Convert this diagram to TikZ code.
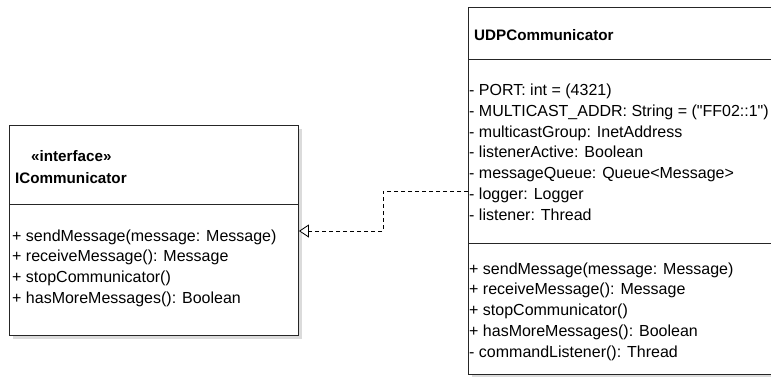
\documentclass[tikz,border=0pt]{standalone}
\usepackage{fontspec}
\setmainfont{Liberation Sans}[Ligatures=TeXOff]
\usetikzlibrary{arrows.meta,positioning}
\tikzset{
  classbox/.style  = {draw=black!85, line width=0.9pt, fill=white,
                      inner sep=0pt, anchor=north west},
  boxshadow/.style = {fill=gray!28, draw=none},
  divider/.style   = {draw=black!85, line width=0.9pt},
  member/.style    = {anchor=base west, inner sep=0pt,
                      font=\fontsize{16}{18}\selectfont},
  classname/.style = {anchor=base west, inner sep=0pt,
                      font=\fontsize{15.2}{18}\selectfont\bfseries},
  realize/.style   = {line width=0.8pt, dash pattern=on 4pt off 3pt,
                      -{Triangle[open,length=10pt,width=13pt,line width=0.8pt,fill=white]}},
}

\begin{document}
\begin{tikzpicture}[x=1pt, y=-1pt]
  \useasboundingbox (0,0) rectangle (771,376);

  % ---- interface box -------------------------------------------------------
  \fill[boxshadow] (13,129) rectangle (302,339);
  \node[classbox, minimum width=289pt, minimum height=210pt] (iface) at (9,125) {};
  \draw[divider] (iface.west |- 0,204) -- (iface.east |- 0,204);
  \node[classname] (stereo) at (31,161.5) {«interface»};
  \node[classname] (ifacename) at (15,183) {ICommunicator};
  \foreach \txt [count=\i from 0] in {%
      + sendMessage(message: Message),
      + receiveMessage(): Message,
      + stopCommunicator(),
      + hasMoreMessages(): Boolean}
    \node[member] (iop\i) at (12,{241+20.8*\i}) {\txt};

  % ---- implementing class (runs off the right edge) --------------------------
  \fill[boxshadow] (472,12) rectangle (790,380);
  \node[classbox, minimum width=320pt, minimum height=367pt] (udp) at (468,7) {};
  \draw[divider] (udp.west |- 0,59) -- (udp.east |- 0,59);
  \draw[divider] (udp.west |- 0,243) -- (udp.east |- 0,243);
  \node[classname] (udpname) at (474,40) {UDPCommunicator};
  \foreach \txt [count=\i from 0] in {%
      - PORT: int = (4321),
      - MULTICAST\_ADDR: String = ("FF02::1"),
      - multicastGroup: InetAddress,
      - listenerActive: Boolean,
      - messageQueue: Queue<Message>,
      - logger: Logger,
      - listener: Thread}
    \node[member] (uattr\i) at (469,{95.5+20.8*\i}) {\txt};
  \foreach \txt [count=\i from 0] in {%
      + sendMessage(message: Message),
      + receiveMessage(): Message,
      + stopCommunicator(),
      + hasMoreMessages(): Boolean,
      - commandListener(): Thread}
    \node[member] (uop\i) at (469,{274+20.8*\i}) {\txt};

  % ---- realization ---------------------------------------------------------
  \coordinate (udp-port) at (udp.west |- 0,191);
  \coordinate (iface-port) at (iface.east |- 0,231);
  \draw[realize] (udp-port) -- ++(-85,0) |- (iface-port);
\end{tikzpicture}
\end{document}
